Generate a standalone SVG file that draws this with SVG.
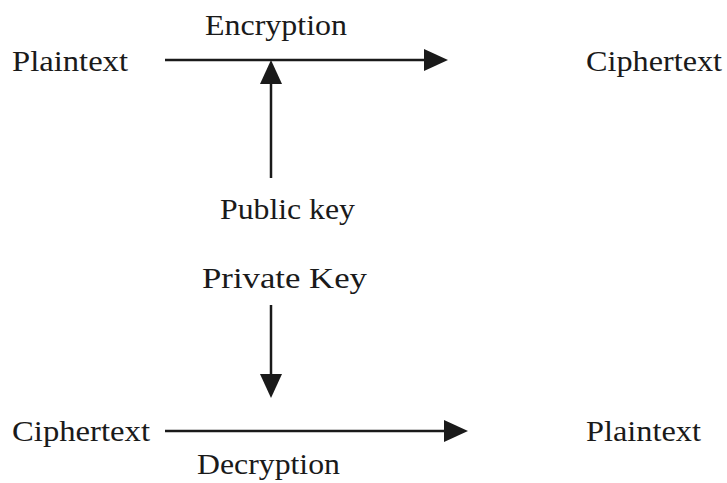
<svg xmlns="http://www.w3.org/2000/svg" width="727" height="483" viewBox="0 0 727 483">
<style>
text{font-family:"Liberation Serif","Times New Roman",serif;font-size:29px;fill:#1a1a1a}
.ln{stroke:#1a1a1a;stroke-width:2.5;fill:none}
.ah{fill:#1a1a1a}
</style>
<rect width="727" height="483" fill="#fff"/>
<g id="connectors">
<path class="ln" d="M165,60 H424"/>
<path class="ah" d="M424,49 L448,60 L424,71 z"/>
<path class="ln" d="M271,178 V82"/>
<path class="ah" d="M260,84 L271,60 L282,84 z"/>
<path class="ln" d="M271,305 V376"/>
<path class="ah" d="M260,374 L271,398 L282,374 z"/>
<path class="ln" d="M165,431 H444"/>
<path class="ah" d="M444,420 L468,431 L444,442 z"/>
</g>
<g id="plaintext-top"><text x="12" y="71" textLength="116" lengthAdjust="spacingAndGlyphs">Plaintext</text></g>
<g id="encryption"><text x="205" y="35" textLength="142" lengthAdjust="spacingAndGlyphs">Encryption</text></g>
<g id="ciphertext-top"><text x="586" y="71" textLength="136" lengthAdjust="spacingAndGlyphs">Ciphertext</text></g>
<g id="public-key"><text x="220" y="219" textLength="135" lengthAdjust="spacingAndGlyphs">Public key</text></g>
<g id="private-key"><text x="202" y="288" textLength="165" lengthAdjust="spacingAndGlyphs">Private  Key</text></g>
<g id="ciphertext-bottom"><text x="12" y="441" textLength="138" lengthAdjust="spacingAndGlyphs">Ciphertext</text></g>
<g id="plaintext-bottom"><text x="586" y="441" textLength="115" lengthAdjust="spacingAndGlyphs">Plaintext</text></g>
<g id="decryption"><text x="197" y="474" textLength="143" lengthAdjust="spacingAndGlyphs">Decryption</text></g>
</svg>
